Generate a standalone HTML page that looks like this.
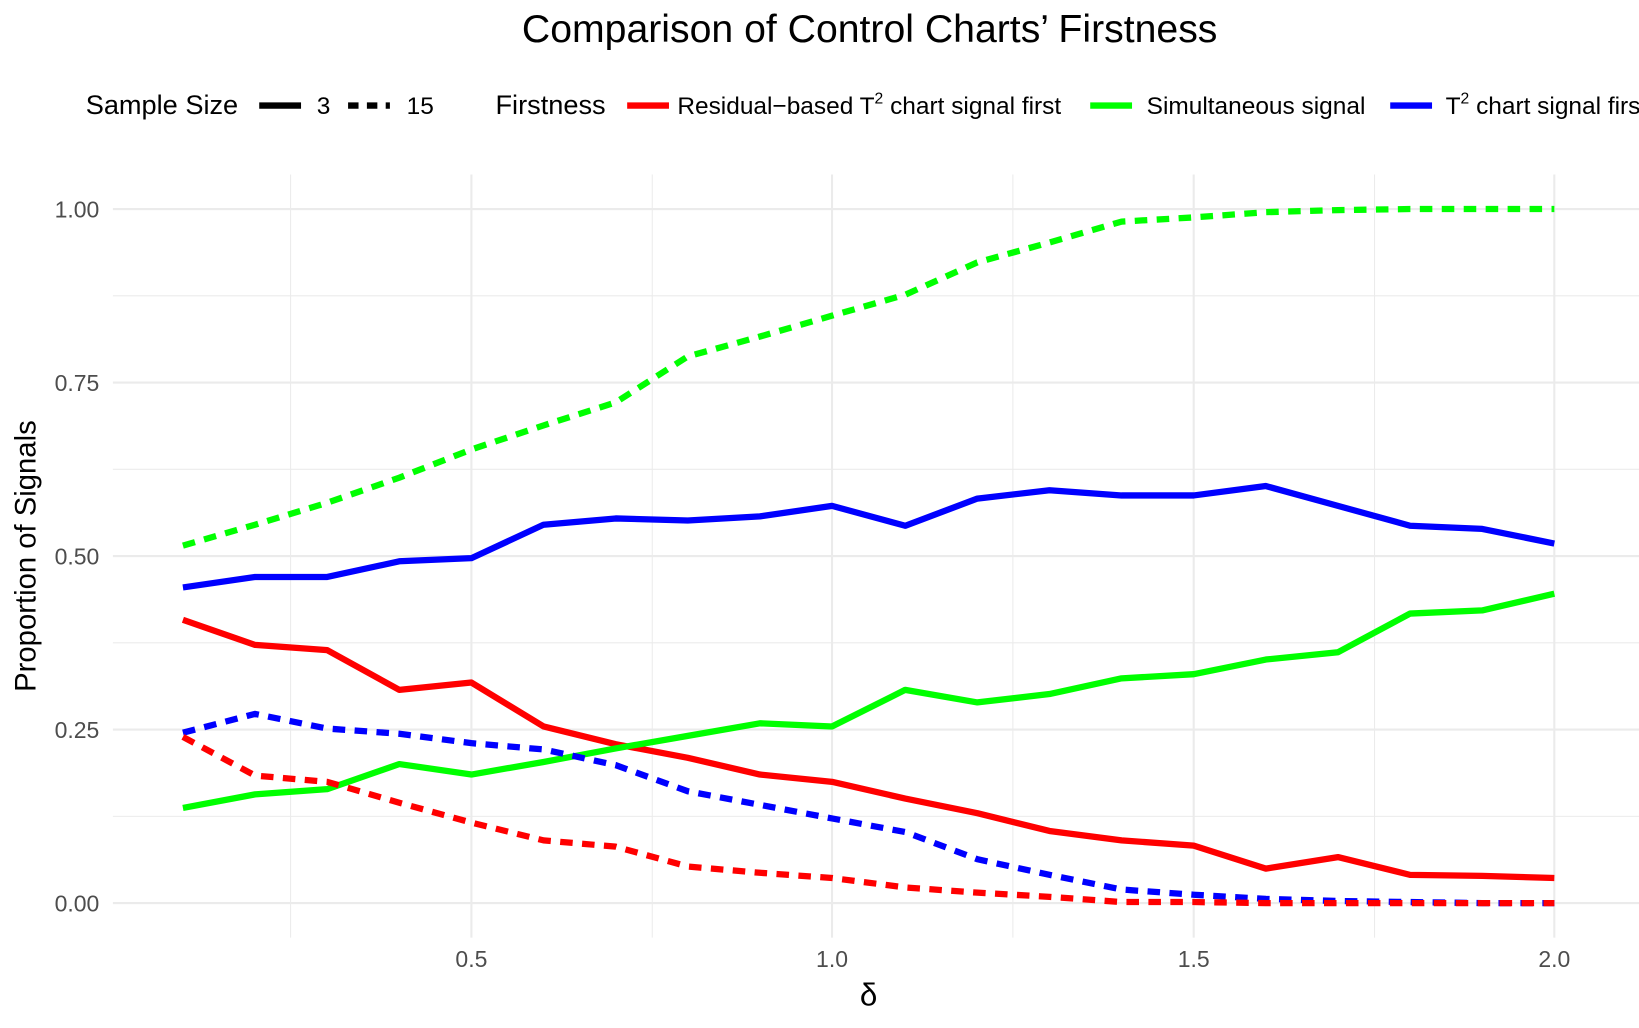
<!DOCTYPE html>
<html><head><meta charset="utf-8"><style>
html,body{margin:0;padding:0;background:#fff;}
svg{display:block;font-family:"Liberation Sans","DejaVu Sans",sans-serif;}
</style></head><body>
<svg width="1639" height="1028" viewBox="0 0 1568 983.5" preserveAspectRatio="none" xmlns="http://www.w3.org/2000/svg">
<rect width="1568" height="983.5" fill="#fff"/>
<text x="832" y="40" font-size="37.5" text-anchor="middle" fill="#000">Comparison of Control Charts’ Firstness</text>
<!-- legend -->
<g font-size="23.4" fill="#000">
<text x="82" y="109" font-size="26">Sample Size</text>
<line x1="248" y1="101" x2="288" y2="101" stroke="#000" stroke-width="6"/>
<text x="303" y="109">3</text>
<line x1="333" y1="101" x2="373" y2="101" stroke="#000" stroke-width="6" stroke-dasharray="10,8"/>
<text x="389" y="109">15</text>
<text x="474" y="109" font-size="26">Firstness</text>
<line x1="600" y1="101" x2="640" y2="101" stroke="#ff0000" stroke-width="6"/>
<text x="648" y="109">Residual−based T<tspan dy="-10" font-size="15">2</tspan><tspan dy="10"> chart signal first</tspan></text>
<line x1="1043" y1="101" x2="1083" y2="101" stroke="#00ff00" stroke-width="6"/>
<text x="1097" y="109">Simultaneous signal</text>
<line x1="1330" y1="101" x2="1370" y2="101" stroke="#0000ff" stroke-width="6"/>
<text x="1383" y="109">T<tspan dy="-10" font-size="15">2</tspan><tspan dy="10"> chart signal first</tspan></text>
</g>
<!-- grid -->
<g stroke="#ebebeb" stroke-width="1">
<line x1="108" x2="1568" y1="283" y2="283"/><line x1="108" x2="1568" y1="449" y2="449"/>
<line x1="108" x2="1568" y1="615" y2="615"/><line x1="108" x2="1568" y1="781" y2="781"/>
<line y1="167" y2="897" x1="278" x2="278"/><line y1="167" y2="897" x1="624" x2="624"/>
<line y1="167" y2="897" x1="969" x2="969"/><line y1="167" y2="897" x1="1315" x2="1315"/>
</g>
<g stroke="#ebebeb" stroke-width="2">
<line x1="108" x2="1568" y1="200" y2="200"/><line x1="108" x2="1568" y1="366" y2="366"/>
<line x1="108" x2="1568" y1="532" y2="532"/><line x1="108" x2="1568" y1="698" y2="698"/>
<line x1="108" x2="1568" y1="864" y2="864"/>
<line y1="167" y2="897" x1="451" x2="451"/><line y1="167" y2="897" x1="796" x2="796"/>
<line y1="167" y2="897" x1="1142" x2="1142"/><line y1="167" y2="897" x1="1487" x2="1487"/>
</g>
<g font-size="22" fill="#4d4d4d" text-anchor="end">
<text x="95" y="208">1.00</text><text x="95" y="374">0.75</text><text x="95" y="540">0.50</text>
<text x="95" y="706">0.25</text><text x="95" y="872">0.00</text>
</g>
<g font-size="22" fill="#4d4d4d" text-anchor="middle">
<text x="451" y="925">0.5</text><text x="796" y="925">1.0</text><text x="1142" y="925">1.5</text><text x="1487" y="925">2.0</text>
</g>
<text x="831" y="962" font-size="30" text-anchor="middle" fill="#000">δ</text>
<text transform="translate(34,532) rotate(-90)" font-size="28" text-anchor="middle" fill="#000">Proportion of Signals</text>
<!-- series -->
<g fill="none" stroke-width="6" stroke-linejoin="round">
<polyline stroke="#00ff00" stroke-dasharray="12,9" points="175,522 244,502 313,481 382,457 451,430 520,407 589,385 658,341 727,322 796,302 866,282 935,251 1004,232 1073,212 1142,208 1211,203 1280,201 1349,200 1418,200 1487,200"/>
<polyline stroke="#0000ff" points="175,562 244,552 313,552 382,537 451,534 520,502 589,496 658,498 727,494 796,484 866,503 935,477 1004,469 1073,474 1142,474 1211,465 1280,484 1349,503 1418,506 1487,520"/>
<polyline stroke="#ff0000" points="175,593 244,617 313,622 382,660 451,653 520,695 589,712 658,725 727,741 796,748 866,764 935,778 1004,795 1073,804 1142,809 1211,831 1280,820 1349,837 1418,838 1487,840"/>
<polyline stroke="#00ff00" points="175,773 244,760 313,755 382,731 451,741 520,729 589,716 658,704 727,692 796,695 866,660 935,672 1004,664 1073,649 1142,645 1211,631 1280,624 1349,587 1418,584 1487,568"/>
<polyline stroke="#0000ff" stroke-dasharray="12,9" points="175,701 244,683 313,697 382,702 451,711 520,717 589,732 658,757 727,770 796,783 866,796 935,822 1004,837 1073,851 1142,856 1211,860 1280,862 1349,863 1418,864 1487,864"/>
<polyline stroke="#ff0000" stroke-dasharray="12,9" points="175,705 244,742 313,748 382,768 451,787 520,804 589,810 658,829 727,835 796,840 866,849 935,854 1004,858 1073,863 1142,863 1211,864 1280,864 1349,864 1418,864 1487,864"/>
</g>
</svg>
</body></html>
